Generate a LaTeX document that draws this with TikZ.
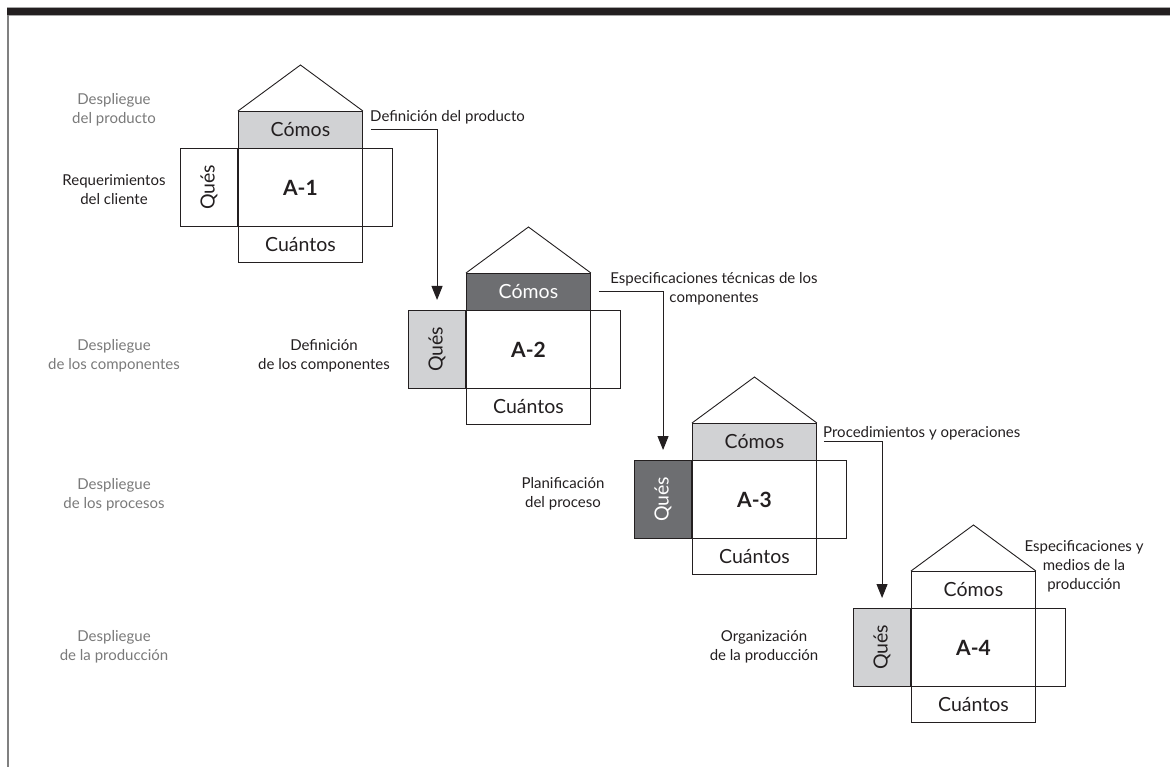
\documentclass[tikz,border=0pt]{standalone}
\usepackage{fontspec}
\setmainfont{Lato}
\usepackage{graphicx}
\usetikzlibrary{arrows.meta,calc}
\definecolor{lightfill}{HTML}{D1D2D4}
\definecolor{darkfill}{HTML}{6D6E71}
\definecolor{inkblack}{HTML}{231F20}
\definecolor{labelgray}{HTML}{7A7A7A}
\newcommand\qfdhouse[8]{%
  \node[cell, minimum width=57pt, minimum height=78pt, fill=#6, anchor=north east] (ques#1) at (#2,#3+37) {\rotatebox{90}{\textcolor{#7}{Qués}}};
  \node[cell, minimum width=124pt, minimum height=78pt, anchor=north west] (main#1) at (#2,#3+37) {\fontsize{21}{23}\selectfont\bfseries #8};
  \node[cell, minimum width=30pt, minimum height=78pt, anchor=north west] (wing#1) at (#2+124,#3+37) {};
  \node[cell, minimum width=124pt, minimum height=37pt, fill=#4, text=#5, anchor=north west] (comos#1) at (#2,#3) {Cómos};
  \node[cell, minimum width=124pt, minimum height=36pt, anchor=north west] (cuantos#1) at (#2,#3+115) {Cuántos};
  \coordinate (apex#1) at ([yshift=46pt]comos#1.north);
  \draw[roofline] (comos#1.north west) -- (apex#1) -- (comos#1.north east);
}
\tikzset{
  cell/.style={draw=inkblack, line width=0.9pt, inner sep=0pt, text=inkblack, font=\fontsize{19.5}{21}\selectfont},
  roofline/.style={draw=inkblack, line width=0.9pt, line join=miter},
  conn/.style={draw=inkblack, line width=1pt, -{Triangle[length=14pt,width=11pt]}},
  lbl/.style={text=inkblack, font=\fontsize{15}{19}\selectfont, align=center, inner sep=0pt},
  glbl/.style={text=labelgray, font=\fontsize{15}{19}\selectfont, align=center, inner sep=0pt}
}
\begin{document}
\begin{tikzpicture}[x=1pt,y=-1pt]
\useasboundingbox (0,0) rectangle (1170,767);
\fill[white] (0,0) rectangle (1170,767);
% frame
\fill[inkblack] (7,7) rectangle (1170,15);
\draw[gray!70, line width=0.6pt] (7,7) -- (1170,7);
\draw[gray!70, line width=0.6pt] (7,15) -- (1170,15);
\draw[gray, line width=1.4pt] (8,15) -- (8,767);
% houses
\qfdhouse{1}{238}{111}{lightfill}{inkblack}{white}{inkblack}{A-1}
\qfdhouse{2}{466}{273}{darkfill}{white}{lightfill}{inkblack}{A-2}
\qfdhouse{3}{692}{423}{lightfill}{inkblack}{darkfill}{white}{A-3}
\qfdhouse{4}{911}{571}{white}{inkblack}{lightfill}{inkblack}{A-4}
% connectors
\draw[conn] ([xshift=8pt]comos1.east) -| ([yshift=10pt]ques2.north);
\draw[conn] ([xshift=8pt]comos2.east) -| ([yshift=10pt]ques3.north);
\draw[conn] ([xshift=7pt]comos3.east) -| ([yshift=10pt]ques4.north);
% left labels
\node[glbl] (dp1) at (114,109.5) {Despliegue\\del producto};
\node[glbl] (dp2) at (114,355.5) {Despliegue\\de los componentes};
\node[glbl] (dp3) at (114,494.5) {Despliegue\\de los procesos};
\node[glbl] (dp4) at (114,646.5) {Despliegue\\de la producción};
% input labels
\node[lbl] (in1) at (114,190) {Requerimientos\\del cliente};
\node[lbl] (in2) at (324,355.5) {Definición\\de los componentes};
\node[lbl] (in3) at (563,494) {Planificación\\del proceso};
\node[lbl] (in4) at (764,647) {Organización\\de la producción};
% output labels
\node[lbl, anchor=west] (out1) at (370,117) {Definición del producto};
\node[lbl] (out2) at (714,288.5) {Especificaciones técnicas de los\\componentes};
\node[lbl, anchor=west] (out3) at (823,433) {Procedimientos y operaciones};
\node[lbl] (out4) at (1084,566) {Especificaciones y\\medios de la\\producción};
\end{tikzpicture}
\end{document}
